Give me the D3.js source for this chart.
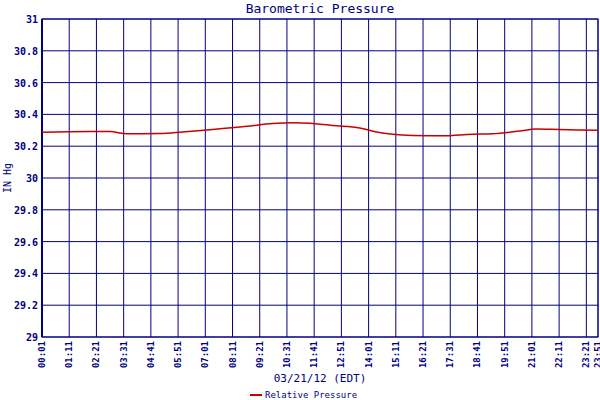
<!DOCTYPE html>
<html><head><meta charset="utf-8">
<script src="https://cdn.jsdelivr.net/npm/d3@7"></script>
<style>body{margin:0;background:#fff}text{font-family:"DejaVu Sans Mono",monospace;fill:#000080}</style>
</head><body><svg id="c" width="600" height="400"></svg>
<script>
const tickLabels=["00:01","01:11","02:21","03:31","04:41","05:51","07:01","08:11","09:21","10:31","11:41","12:51","14:01","15:11","16:21","17:31","18:41","19:51","21:01","22:11","23:21","23:51"];
const yTicks=[29,29.2,29.4,29.6,29.8,30,30.2,30.4,30.6,30.8,31];
const times=[1,124,176,219,304,363,440,528,594,646,690,748,818,861,954,1031,1108,1160,1229,1272,1331,1431];
const pressure=[30.287,30.292,30.292,30.278,30.280,30.290,30.305,30.325,30.343,30.348,30.345,30.330,30.315,30.290,30.268,30.265,30.275,30.278,30.295,30.308,30.305,30.300];
const toMin=s=>{const [h,m]=s.split(":").map(Number);return h*60+m;};
const svg=d3.select("#c");
const L=42,R=598,T=19,B=337;
const x=d3.scaleLinear().domain([1,1431]).range([L,R]);
const y=d3.scaleLinear().domain([29,31]).range([B,T]);
const g=svg.append("g");
yTicks.forEach(v=>g.append("line").attr("x1",L).attr("x2",R).attr("y1",y(v)).attr("y2",y(v)).attr("stroke","#000080"));
tickLabels.forEach(s=>g.append("line").attr("x1",x(toMin(s))).attr("x2",x(toMin(s))).attr("y1",T).attr("y2",B).attr("stroke","#000080"));
g.append("rect").attr("x",L).attr("y",T).attr("width",R-L).attr("height",B-T).attr("fill","none").attr("stroke","#000080");
g.append("line").attr("x1",L).attr("x2",L).attr("y1",T).attr("y2",B).attr("stroke","#000080").attr("stroke-width",2);
yTicks.forEach(v=>svg.append("text").attr("x",L-4).attr("y",y(v)+4).attr("text-anchor","end").attr("font-size",10).attr("font-weight","bold").text(d3.format("")(+v.toFixed(1))));
tickLabels.forEach(s=>svg.append("text").attr("transform",`translate(${x(toMin(s))+3},${B+4}) rotate(-90)`).attr("text-anchor","end").attr("font-size",9).attr("font-weight","bold").text(s));
const line=d3.line().x((d,i)=>x(times[i])).y(d=>y(d)).curve(d3.curveMonotoneX);
svg.append("path").datum(pressure).attr("d",line).attr("fill","none").attr("stroke","#cc0000").attr("stroke-width",1.5);
svg.append("text").attr("x",320).attr("y",13).attr("text-anchor","middle").attr("font-size",13).text("Barometric Pressure");
svg.append("text").attr("transform","translate(11,178) rotate(-90)").attr("text-anchor","middle").attr("font-size",10).text("IN Hg");
svg.append("text").attr("x",320).attr("y",382).attr("text-anchor","middle").attr("font-size",11).text("03/21/12 (EDT)");
svg.append("line").attr("x1",250).attr("x2",262).attr("y1",395).attr("y2",395).attr("stroke","#cc0000").attr("stroke-width",2);
svg.append("text").attr("x",265).attr("y",398).attr("font-size",9).text("Relative Pressure");
</script></body></html>
